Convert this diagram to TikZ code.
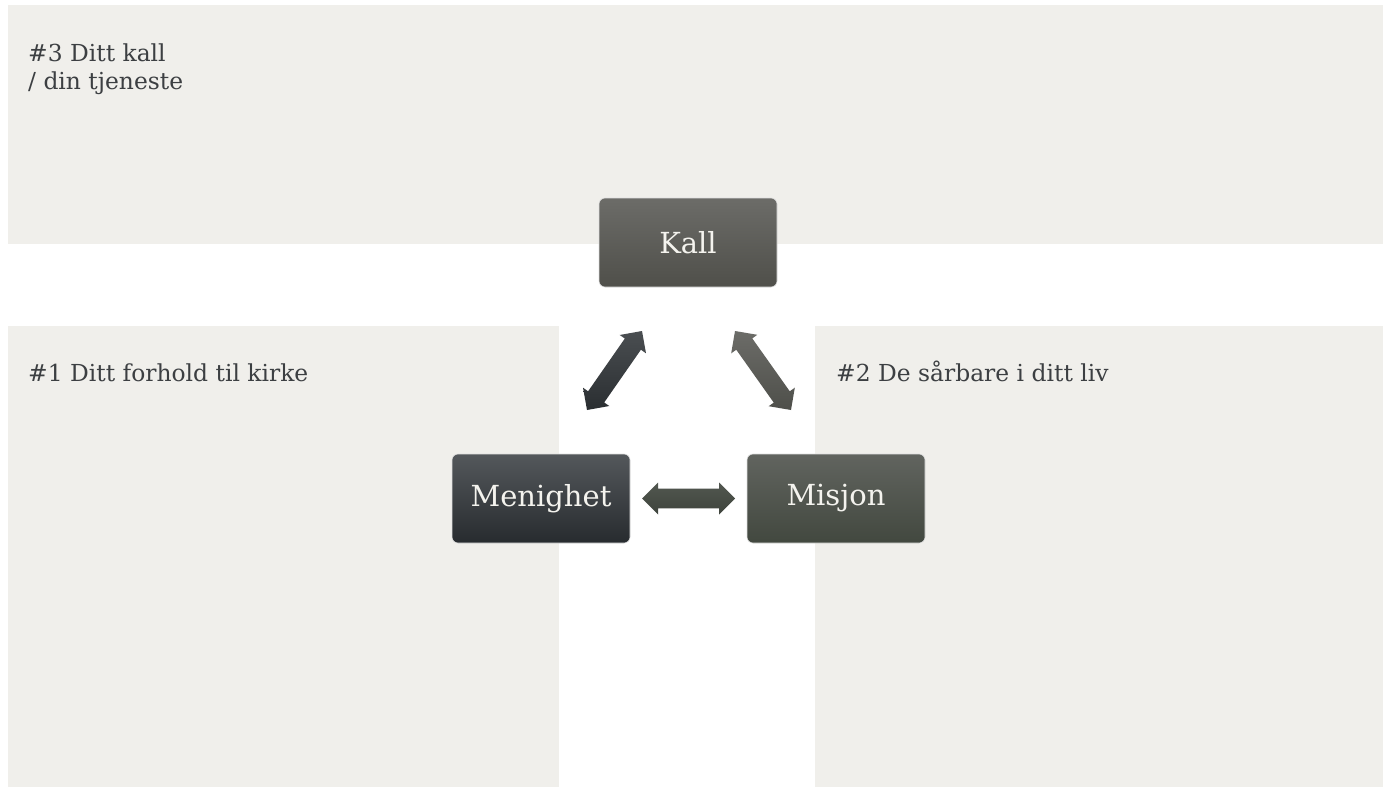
\documentclass[tikz,border=0pt]{standalone}
\usepackage{fontspec}
\setmainfont{DejaVu Serif}
\usetikzlibrary{calc}
\definecolor{panel}{HTML}{F0EFEB}
\definecolor{labeltxt}{HTML}{3C3F42}
\definecolor{boxtxt}{HTML}{F4F3EE}
\definecolor{kalltop}{HTML}{6C6C68}
\definecolor{kallbot}{HTML}{4F4F4A}
\definecolor{mentop}{HTML}{54585B}
\definecolor{menbot}{HTML}{272B2F}
\definecolor{mistop}{HTML}{61645F}
\definecolor{misbot}{HTML}{42483F}
\definecolor{latop}{HTML}{4A4E51}
\definecolor{labot}{HTML}{2A2E31}
\definecolor{ratop}{HTML}{6C6C68}
\definecolor{rabot}{HTML}{4E4F4A}
\definecolor{hatop}{HTML}{525750}
\definecolor{habot}{HTML}{3E443C}
\tikzset{
  panelbox/.style={fill=panel, draw=none},
  label/.style={anchor=base west, text=labeltxt, font=\fontsize{23.4}{28}\selectfont, inner sep=0pt, align=left},
  box/.style={rounded corners=6pt, minimum width=178pt, minimum height=89pt, inner sep=0pt,
    text=boxtxt, font=\fontsize{29}{32}\selectfont, draw=black!12, line width=0.6pt},
}
% double arrow between two coordinates: #1 start, #2 end, #3 shading options
\newcommand{\dblarrowshape}[3]{%
  \coordinate (#1h) at ($(#1)!16pt!(#2)$);
  \coordinate (#2h) at ($(#2)!16pt!(#1)$);
  \shade[#3] (#1)
    -- ($(#1h)!16pt!90:(#2)$) -- ($(#1h)!9.8pt!90:(#2)$)
    -- ($(#2h)!9.8pt!-90:(#1)$) -- ($(#2h)!16pt!-90:(#1)$)
    -- (#2)
    -- ($(#2h)!16pt!90:(#1)$) -- ($(#2h)!9.8pt!90:(#1)$)
    -- ($(#1h)!9.8pt!-90:(#2)$) -- ($(#1h)!16pt!-90:(#2)$)
    -- cycle;
}
\begin{document}
\begin{tikzpicture}[x=1pt,y=-1pt]
\useasboundingbox (0,0) rectangle (1388,787);
\fill[white] (0,0) rectangle (1388,787);
% panels
\fill[panelbox] (8,5) rectangle (1383,244);
\fill[panelbox] (8,326) rectangle (559,787);
\fill[panelbox] (815,326) rectangle (1383,787);
% labels
\node[label] (l3) at (28,89) {\#3 Ditt kall\\/ din tjeneste};
\node[label] (l1) at (28,381) {\#1 Ditt forhold til kirke};
\node[label] (l2) at (836,381) {\#2 De sårbare i ditt liv};
% boxes
\node[box, top color=kalltop, bottom color=kallbot] (kall) at (688,242.5) {Kall};
\node[box, top color=mentop, bottom color=menbot] (menighet) at (541,498.5) {Menighet};
\node[box, top color=mistop, bottom color=misbot] (misjon) at (836,498.5) {Misjon};
% arrow ends
\coordinate (la) at (587,410);
\coordinate (lb) at (642,331);
\coordinate (ra) at (735,331);
\coordinate (rb) at (791,410);
\coordinate (ha) at (642,498.5);
\coordinate (hb) at (735,498.5);
\dblarrowshape{la}{lb}{top color=latop, bottom color=labot}
\dblarrowshape{ra}{rb}{top color=ratop, bottom color=rabot}
\dblarrowshape{ha}{hb}{top color=hatop, bottom color=habot}
\end{tikzpicture}
\end{document}
